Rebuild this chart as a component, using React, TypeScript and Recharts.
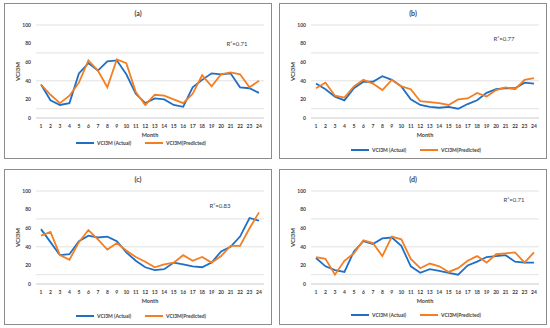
import { LineChart, Line, CartesianGrid, XAxis, YAxis, Legend } from 'recharts';

// months on the x axis
const months = [1, 2, 3, 4, 5, 6, 7, 8, 9, 10, 11, 12, 13, 14, 15, 16, 17, 18, 19, 20, 21, 22, 23, 24];
const yTicks = [0, 10, 20, 30, 40, 50, 60, 70, 80, 90, 100];

// (a)
const actualA = [36, 19, 14, 16, 48, 59, 51, 61, 62, 47, 26, 16, 21, 20, 14, 12, 33, 41, 48, 47, 48, 33, 32, 27];
const predictedA = [36, 25, 16, 24, 38, 62, 51, 33, 63, 59, 28, 14, 25, 24, 20, 16, 26, 46, 34, 47, 49, 47, 33, 40];
// (b)
const actualB = [37, 31, 23, 19, 32, 39, 39, 45, 41, 34, 20, 14, 12, 11, 12, 10, 15, 19, 27, 31, 32, 32, 38, 37];
const predictedB = [32, 38, 24, 22, 34, 41, 37, 30, 41, 34, 31, 18, 17, 16, 14, 20, 21, 27, 23, 30, 33, 31, 41, 43];
// (c)
const actualC = [59, 45, 31, 32, 46, 52, 50, 51, 46, 34, 25, 18, 15, 16, 23, 21, 19, 18, 23, 35, 40, 51, 71, 68];
const predictedC = [52, 56, 31, 26, 45, 58, 48, 37, 44, 36, 29, 24, 18, 21, 23, 31, 25, 29, 23, 30, 41, 41, 60, 77];
// (d)
const actualD = [28, 19, 15, 13, 35, 46, 43, 49, 50, 41, 19, 12, 16, 14, 12, 10, 20, 24, 29, 30, 31, 24, 23, 23];
const predictedD = [29, 27, 10, 25, 33, 47, 44, 30, 51, 48, 27, 17, 22, 19, 13, 17, 25, 30, 23, 32, 33, 34, 23, 34];

const titles = ['(a)', '(b)', '(c)', '(d)'];
const r2Labels = ['R\u00b2=0.71', 'R\u00b2=0.77', 'R\u00b2=0.83', 'R\u00b2=0.71'];
const actualName = 'VCI3M (Actual)';
const predictedName = 'VCI3M(Predicted)';

const FONT = 'Lato, "Open Sans", Arial, sans-serif';
const W = 266;
const H = 154;

// legend: short line + label, like the Excel one
const renderLegend = (props: any) => {
  const items = props.payload || [];
  return (
    <div
      style={{
        display: 'flex',
        justifyContent: 'center',
        alignItems: 'center',
        paddingLeft: 6,
        height: 6,
        fontSize: 5,
        fontFamily: FONT,
        fontWeight: 700,
        color: '#404040',
      }}
    >
      {items.map((e: any, i: number) => (
        <div key={i} style={{ display: 'flex', alignItems: 'center', marginRight: i === 0 ? 14 : 0 }}>
          <svg width={18} height={4} style={{ marginRight: 3 }}>
            <line x1={0} y1={2} x2={18} y2={2} stroke={e.color} strokeWidth={2} />
          </svg>
          <span>{e.value}</span>
        </div>
      ))}
    </div>
  );
};

type PanelProps = {
  title: string;
  r2: string;
  actual: number[];
  predicted: number[];
  left: number;
  top: number;
  r2x: number;
  r2y: number;
  legendTop: number;
};

const Panel = ({ title, r2, actual, predicted, left, top, r2x, r2y, legendTop }: PanelProps) => {
  const data = months.map((m, i) => ({ month: m, actual: actual[i], predicted: predicted[i] }));
  const tickStyle = { fontSize: 5, fill: '#404040', fontFamily: FONT, fontWeight: 700 };
  return (
    <div
      style={{
        position: 'absolute',
        left,
        top,
        width: W,
        height: H,
        border: '1px solid #8c8c8c',
        background: '#fff',
      }}
    >
      <LineChart width={W} height={H} data={data} margin={{ top: 21, right: 7, left: 0, bottom: 18 }}>
        <CartesianGrid vertical={false} stroke="#d9d9d9" strokeWidth={0.8} />
        <XAxis
          dataKey="month"
          interval={0}
          tickLine={false}
          axisLine={{ stroke: '#d9d9d9' }}
          padding={{ left: 5, right: 5 }}
          tickSize={3}
          tickMargin={3}
          height={22}
          tick={tickStyle}
          label={{ value: 'Month', position: 'insideBottom', offset: 3, fontSize: 5.5, fill: '#404040', fontFamily: FONT, fontWeight: 700 }}
        />
        <YAxis
          domain={[0, 100]}
          ticks={yTicks}
          width={31}
          tickLine={false}
          axisLine={false}
          tickSize={3}
          tickMargin={2}
          tick={tickStyle}
          label={{
            value: 'VCI3M',
            angle: -90,
            position: 'insideLeft',
            offset: 13,
            fontSize: 6,
            fill: '#404040',
            fontFamily: FONT,
            fontWeight: 700,
            style: { textAnchor: 'middle' },
          }}
        />
        <Legend
          verticalAlign="middle"
          align="center"
          content={renderLegend}
          wrapperStyle={{ top: legendTop, left: 0, width: W }}
        />
        <Line
          type="linear"
          dataKey="actual"
          name={actualName}
          stroke="#1f6fc6"
          strokeWidth={1.8}
          dot={false}
          isAnimationActive={false}
        />
        <Line
          type="linear"
          dataKey="predicted"
          name={predictedName}
          stroke="#f47e22"
          strokeWidth={1.8}
          dot={false}
          isAnimationActive={false}
        />
        <text x={133} y={9} textAnchor="middle" dominantBaseline="central" fontSize={7} fontWeight={700} fill="#404040" fontFamily={FONT}>
          {title}
        </text>
        <rect x={r2x - 19} y={r2y - 7} width={38} height={14} fill="#fff" />
        <text x={r2x} y={r2y} textAnchor="middle" dominantBaseline="central" fontSize={6} fill="#404040" fontFamily={FONT}>
          {r2}
        </text>
      </LineChart>
    </div>
  );
};

export default function App() {
  return (
    <div style={{ position: 'absolute', left: 0, top: 0, width: 550, height: 328, background: '#fff' }}>
      <Panel title={titles[0]} r2={r2Labels[0]} actual={actualA} predicted={predictedA} left={4} top={3} r2x={232} r2y={39} legendTop={136} />
      <Panel title={titles[1]} r2={r2Labels[1]} actual={actualB} predicted={predictedB} left={279} top={3} r2x={224} r2y={34} legendTop={143} />
      <Panel title={titles[2]} r2={r2Labels[2]} actual={actualC} predicted={predictedC} left={4} top={169} r2x={215} r2y={35} legendTop={143} />
      <Panel title={titles[3]} r2={r2Labels[3]} actual={actualD} predicted={predictedD} left={279} top={169} r2x={234} r2y={29} legendTop={142} />
    </div>
  );
}
